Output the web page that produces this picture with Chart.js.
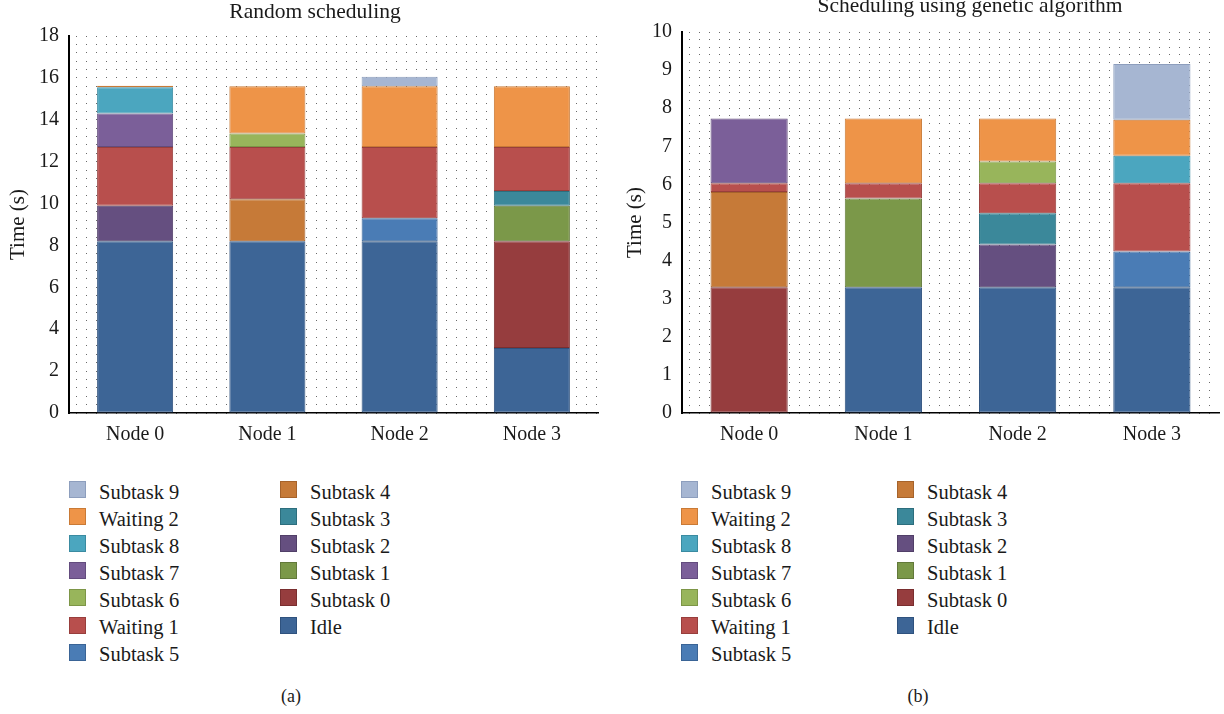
<!DOCTYPE html>
<html>
<head>
<meta charset="utf-8">
<script src="https://cdn.jsdelivr.net/npm/chart.js@4.4.1/dist/chart.umd.min.js"></script>
<style>
  html, body { margin: 0; padding: 0; background: #fff; }
  body { width: 1224px; height: 714px; position: relative; overflow: hidden;
         font-family: "Liberation Serif", "DejaVu Serif", serif; color: #1a1a1a; }
  .panel { position: absolute; }
  .legend { position: absolute; display: flex; }
  .legend .col { position: absolute; top: 0; }
  .legend .item { height: 27.1px; display: flex; align-items: center; white-space: nowrap;
                  font-size: 20.5px; line-height: 20px; }
  .legend .swatch { width: 15px; height: 15px; border: 1px solid; margin-right: 13px;
                    box-sizing: content-box; position: relative; top: -2px; }
  .caption { position: absolute; font-size: 18px; transform: translateX(-50%); }
</style>
</head>
<body>
<div class="panel" style="left:0;top:0;width:612px;height:460px;"><canvas id="chartA" width="612" height="460"></canvas></div>
<div class="panel" style="left:612px;top:-4px;width:612px;height:464px;"><canvas id="chartB" width="612" height="464"></canvas></div>
<div class="legend" id="legendA" style="left:69px;top:478px;"></div>
<div class="legend" id="legendB" style="left:681px;top:478px;"></div>
<div class="caption" style="left:291px;top:686px;">(a)</div>
<div class="caption" style="left:918px;top:686px;">(b)</div>

<script>
// Categories
const nodes = ['Node 0', 'Node 1', 'Node 2', 'Node 3'];

// Series names in stacking order (bottom to top)
const seriesNames = ['Idle', 'Subtask 0', 'Subtask 1', 'Subtask 2', 'Subtask 3', 'Subtask 4',
  'Subtask 5', 'Waiting 1', 'Subtask 6', 'Subtask 7', 'Subtask 8', 'Waiting 2', 'Subtask 9'];

// Random scheduling: time (s) per node
const idleRandom   = [8.2, 8.2, 8.2, 3.1];
const sub0Random   = [null, null, null, 5.1];
const sub1Random   = [null, null, null, 1.7];
const sub2Random   = [1.7, null, null, null];
const sub3Random   = [null, null, null, 0.7];
const sub4Random   = [null, 2.0, null, null];
const sub5Random   = [null, null, 1.1, null];
const wait1Random  = [2.8, 2.5, 3.4, 2.1];
const sub6Random   = [null, 0.65, null, null];
const sub7Random   = [1.6, null, null, null];
const sub8Random   = [1.25, null, null, null];
const wait2Random  = [0.08, 2.25, 2.9, 2.9];
const sub9Random   = [null, null, 0.45, null];

// Genetic algorithm scheduling: time (s) per node
const idleGenetic  = [null, 3.3, 3.3, 3.3];
const sub0Genetic  = [3.3, null, null, null];
const sub1Genetic  = [null, 2.33, null, null];
const sub2Genetic  = [null, null, 1.12, null];
const sub3Genetic  = [null, null, 0.82, null];
const sub4Genetic  = [2.5, null, null, null];
const sub5Genetic  = [null, null, null, 0.94];
const wait1Genetic = [0.23, 0.4, 0.79, 1.79];
const sub6Genetic  = [null, null, 0.57, null];
const sub7Genetic  = [1.7, null, null, null];
const sub8Genetic  = [null, null, null, 0.72];
const wait2Genetic = [null, 1.7, 1.13, 0.95];
const sub9Genetic  = [null, null, null, 1.46];

// Y axis tick labels
const yTicksRandom  = [0, 2, 4, 6, 8, 10, 12, 14, 16, 18];
const yTicksGenetic = [0, 1, 2, 3, 4, 5, 6, 7, 8, 9, 10];

const randomSeries = [idleRandom, sub0Random, sub1Random, sub2Random, sub3Random, sub4Random,
  sub5Random, wait1Random, sub6Random, sub7Random, sub8Random, wait2Random, sub9Random];
const geneticSeries = [idleGenetic, sub0Genetic, sub1Genetic, sub2Genetic, sub3Genetic, sub4Genetic,
  sub5Genetic, wait1Genetic, sub6Genetic, sub7Genetic, sub8Genetic, wait2Genetic, sub9Genetic];

// Fill / edge colours per series
const fills   = ['#3d6596', '#963d3e', '#7b9849', '#654f80', '#3b889a', '#c67a38',
  '#4a7cb5', '#b84f4d', '#98b55b', '#7b5f99', '#4ba6bf', '#ee9448', '#a6b6d2'];
const borders = ['#2f527e', '#7a2e2f', '#62793a', '#513f68', '#2d6e7d', '#a6632b',
  '#3a6496', '#983e3c', '#7d9647', '#634c7e', '#3a8ba1', '#c97a36', '#8d9ebd'];

const FONT = '"Liberation Serif", "DejaVu Serif", serif';

// Chart heading drawn above the plot at a given horizontal centre
const headingPlugin = {
  id: 'heading',
  afterDraw(chart, args, opts) {
    const ctx = chart.ctx;
    ctx.save();
    ctx.font = opts.size + 'px ' + FONT;
    ctx.fillStyle = '#1a1a1a';
    ctx.textAlign = 'center';
    ctx.textBaseline = 'middle';
    ctx.fillText(opts.text, opts.x, opts.y);
    ctx.restore();
  }
};

function makeDatasets(series) {
  return seriesNames.map((name, i) => ({
    label: name,
    data: series[i],
    backgroundColor: fills[i],
    borderColor: borders[i],
    borderWidth: 1,
    borderSkipped: false,
    barPercentage: 0.575,
    categoryPercentage: 1.0
  }));
}

function makeChart(canvasId, heading, series, yMax, minorStep, labelTicks, yAxisWidth, rightPad, titleOffset) {
  return new Chart(document.getElementById(canvasId), {
    type: 'bar',
    data: { labels: nodes, datasets: makeDatasets(series) },
    plugins: [headingPlugin],
    options: {
      responsive: false,
      animation: false,
      events: [],
      layout: { padding: { left: 0, right: rightPad, top: 36, bottom: 0 } },
      plugins: {
        legend: { display: false },
        tooltip: { enabled: false },
        title: { display: false },
        heading: heading
      },
      scales: {
        x: {
          stacked: true,
          offset: true,
          grid: { display: false },
          border: { display: true, color: '#000', width: 1.5 },
          ticks: { color: '#1a1a1a', padding: 2, font: { family: FONT, size: 20 } },
          afterFit: s => { s.height = 47; }
        },
        y: {
          stacked: true,
          min: 0, max: yMax,
          grid: { display: true, color: '#6a6a6a', lineWidth: 1, drawTicks: false },
          border: { display: true, color: '#000', width: 2, dash: [1, 9], dashOffset: 4 },
          ticks: {
            stepSize: minorStep,
            autoSkip: false,
            padding: 10,
            color: '#1a1a1a',
            font: { family: FONT, size: 20 },
            callback: v => labelTicks.some(t => Math.abs(t - v) < 1e-6) ? String(Math.round(v)) : ''
          },
          title: {
            display: true, text: 'Time (s)', color: '#1a1a1a',
            font: { family: FONT, size: 21, lineHeight: 1.2 },
            padding: { top: titleOffset, bottom: 0 }
          },
          afterFit: s => { s.width = yAxisWidth; }
        }
      }
    }
  });
}

const chartA = makeChart('chartA', { text: 'Random scheduling', x: 315, y: 12, size: 21.5 },
  randomSeries, 18, 0.4, yTicksRandom, 69, 14, 5.5);
const chartB = makeChart('chartB', { text: 'Scheduling using genetic algorithm', x: 358, y: 10, size: 21.5 },
  geneticSeries, 10, 0.2, yTicksGenetic, 70, 5, 10.5);

// Two-column legend listing the series from top of stack to bottom
function buildLegend(el, col2Left) {
  const order = seriesNames.map((_, i) => i).reverse();
  const cols = [order.slice(0, 7), order.slice(7)];
  cols.forEach((idxs, c) => {
    const col = document.createElement('div');
    col.className = 'col';
    col.style.left = (c === 0 ? 0 : col2Left) + 'px';
    idxs.forEach(i => {
      const item = document.createElement('div');
      item.className = 'item';
      const sw = document.createElement('span');
      sw.className = 'swatch';
      sw.style.background = fills[i];
      sw.style.borderColor = borders[i];
      const tx = document.createElement('span');
      tx.textContent = seriesNames[i];
      item.appendChild(sw);
      item.appendChild(tx);
      col.appendChild(item);
    });
    el.appendChild(col);
  });
}
buildLegend(document.getElementById('legendA'), 211);
buildLegend(document.getElementById('legendB'), 216);
</script>
</body>
</html>
